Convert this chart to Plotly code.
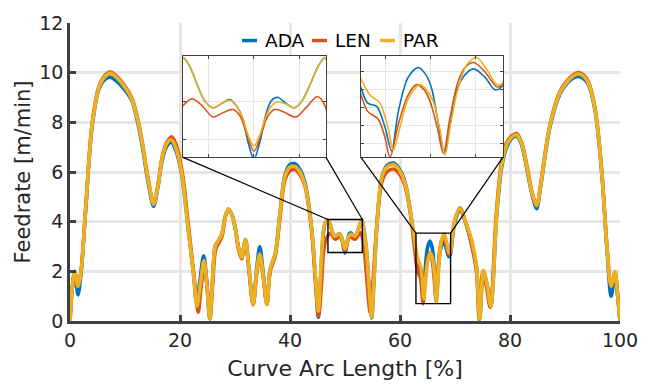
import plotly.graph_objects as go

# ---------------- data ----------------
ada_x = [0, 0.4, 0.85, 1.45, 2.0, 2.8, 4.0, 5.2, 6.2, 7.3, 8.5, 10.0, 11.3, 12.3, 13.1, 14.2, 15.2, 16.0, 16.7, 17.5,
         18.4, 19.2, 20.3, 21.5, 22.5, 23.0, 23.6, 24.3, 24.9, 25.4, 25.9, 26.4, 27.0, 27.6, 28.2, 28.8, 29.4, 30.0,
         30.6, 31.2, 31.9, 32.5, 33.3, 33.9, 34.5, 35.1, 35.8, 36.4, 37.3, 38.2, 39.1, 40.0, 40.9, 41.8, 42.7, 43.9,
         44.6, 45.15, 45.6, 46.1, 46.5, 46.9, 47.2, 47.5, 47.85, 48.21, 48.6, 48.94, 49.25, 49.5, 49.75, 50.0, 50.25,
         50.5, 50.75, 51.03, 51.4, 51.76, 52.1, 52.5, 52.85, 53.1, 53.4, 53.9, 54.4, 54.85, 55.3, 55.8, 56.7, 57.6,
         58.8, 59.8, 60.9, 62.1, 62.6, 62.9, 63.2, 63.6, 63.97, 64.26, 64.56, 65.0, 65.45, 65.8, 66.04, 66.35, 66.6,
         66.85, 67.08, 67.5, 67.9, 68.4, 68.86, 69.15, 69.5, 70.0, 70.9, 72.1, 73.0, 73.9, 74.5, 75.15, 75.8, 76.5,
         77.6, 78.5, 79.4, 80.3, 81.2, 82.1, 83.0, 84.0, 84.85, 85.5, 86.05, 87.3, 89.1, 90.3, 91.4, 92.4, 93.4, 94.2,
         95.45, 96.7, 97.6, 98.4, 99.1, 99.5, 100]
ada_y = [0, 1.3, 1.95, 1.06, 1.9, 4.3, 7.8, 9.3, 9.7, 9.82, 9.65, 9.3, 8.85, 8.0, 7.1, 5.6, 4.62, 5.4, 6.4, 7.0,
         7.2, 6.9, 5.9, 3.7, 1.8, 0.74, 1.6, 2.63, 1.5, 0.1, 1.6, 3.0, 3.25, 3.5, 4.2, 4.5, 4.3, 3.8,
         3.0, 2.56, 3.28, 2.2, 0.67, 2.0, 3.0, 2.0, 0.67, 2.1, 2.7, 4.4, 5.9, 6.3, 6.33, 6.1, 5.6, 3.8,
         1.8, 0.15, 1.9, 3.6, 4.0, 4.07, 3.95, 3.73, 3.5, 3.41, 3.47, 3.52, 3.43, 3.28, 2.95, 2.74, 2.95,
         3.3, 3.5, 3.55, 3.47, 3.41, 3.5, 3.75, 3.98, 4.07, 3.75, 2.85, 1.3, 0.12, 1.8, 3.87, 5.8, 6.25,
         6.36, 6.15, 5.6, 4.1, 3.2, 2.65, 2.22, 2.13, 1.54, 0.88, 1.99, 2.95, 3.22, 3.0, 2.63, 1.6, 0.83,
         1.6, 2.45, 3.0, 3.18, 2.95, 2.59, 2.68, 3.3, 4.0, 4.45, 3.85, 3.1, 2.2, 0.08, 2.0, 1.5, 0.6,
         4.3, 6.2, 7.0, 7.35, 7.45, 7.1, 6.2, 5.1, 4.52, 5.3, 6.15, 7.85, 9.15, 9.55, 9.78, 9.85, 9.75, 9.55,
         8.5, 5.9, 3.0, 1.0, 1.9, 1.2, 0]

len_x = [0, 0.4, 0.85, 1.45, 2.0, 2.8, 4.0, 5.2, 6.2, 7.3, 8.5, 10.0, 11.3, 12.3, 13.1, 14.2, 15.2, 16.0, 16.7, 17.5,
         18.5, 19.3, 20.4, 21.6, 22.6, 23.3, 23.8, 24.4, 24.95, 25.45, 25.95, 26.5, 27.1, 27.7, 28.2, 28.8, 29.4, 30.0,
         30.6, 31.2, 31.9, 32.5, 33.3, 33.9, 34.5, 35.1, 35.8, 36.4, 37.3, 38.2, 39.1, 40.0, 40.9, 41.8, 42.7, 43.9,
         44.6, 45.2, 45.7, 46.1, 46.5, 46.9, 47.28, 47.7, 48.21, 48.6, 49.08, 49.4, 49.7, 50.0, 50.3, 50.6, 50.9,
         51.35, 51.83, 52.3, 52.77, 53.1, 53.5, 54.0, 54.6, 55.1, 55.7, 56.7, 57.6, 58.8, 59.8, 60.9, 62.1, 62.6,
         62.9, 63.2, 63.67, 63.95, 64.19, 64.56, 65.0, 65.37, 65.7, 65.97, 66.3, 66.56, 66.85, 67.2, 67.5, 67.9,
         68.4, 68.93, 69.15, 69.5, 70.0, 70.9, 72.1, 73.0, 73.9, 74.4, 75.05, 75.7, 76.4, 77.5, 78.4, 79.3, 80.3,
         81.2, 82.1, 83.0, 84.0, 84.85, 85.5, 86.05, 87.3, 89.1, 90.3, 91.4, 92.4, 93.4, 94.2, 95.45, 96.7, 97.6,
         98.4, 99.1, 99.5, 100]
len_y = [0, 1.3, 2.0, 1.4, 2.0, 4.4, 7.9, 9.4, 9.85, 10.02, 9.85, 9.45, 8.95, 8.15, 7.25, 5.75, 4.72, 5.5, 6.55, 7.15,
         7.42, 7.1, 6.0, 3.7, 1.7, 0.35, 1.3, 2.25, 1.3, 0.08, 1.5, 2.9, 3.15, 3.45, 4.15, 4.5, 4.3, 3.8,
         2.95, 2.5, 3.2, 2.1, 0.65, 1.8, 2.65, 1.8, 0.67, 2.0, 2.6, 4.2, 5.7, 6.05, 6.1, 5.9, 5.45, 3.7,
         1.7, 0.2, 1.4, 2.8, 3.25, 3.44, 3.53, 3.45, 3.29, 3.34, 3.39, 3.3, 3.05, 2.84, 3.05, 3.3, 3.39,
         3.35, 3.29, 3.42, 3.56, 3.44, 2.9, 1.6, 0.3, 1.6, 3.6, 5.6, 6.0, 6.12, 5.95, 5.45, 4.0, 3.0,
         2.45, 1.99, 1.77, 1.3, 0.7, 1.63, 2.45, 2.74, 2.6, 2.27, 1.5, 0.81, 1.8, 2.8, 3.2, 3.36,
         3.1, 2.68, 2.72, 3.4, 4.1, 4.55, 3.85, 3.1, 2.0, 0.05, 2.0, 1.4, 0.55, 4.3, 6.3, 7.15, 7.45,
         7.55, 7.2, 6.35, 5.2, 4.65, 5.4, 6.25, 7.95, 9.25, 9.65, 9.9, 10.0, 9.9, 9.65, 8.6, 6.0, 3.1,
         1.4, 1.97, 1.2, 0]

par_x = [0, 0.4, 0.85, 1.45, 2.0, 2.8, 4.0, 5.2, 6.2, 7.3, 8.5, 10.0, 11.3, 12.3, 13.1, 14.2, 15.2, 16.0, 16.7, 17.5,
         18.4, 19.2, 20.3, 21.5, 22.5, 23.1, 23.7, 24.35, 24.9, 25.45, 25.9, 26.4, 27.0, 27.6, 28.2, 28.8, 29.4, 30.0,
         30.6, 31.2, 31.9, 32.5, 33.3, 33.9, 34.5, 35.1, 35.8, 36.4, 37.3, 38.2, 39.1, 40.0, 40.9, 41.8, 42.7, 43.9,
         44.6, 45.15, 45.6, 46.1, 46.5, 46.9, 47.2, 47.5, 47.85, 48.21, 48.6, 48.94, 49.25, 49.5, 49.75, 50.0, 50.25,
         50.5, 50.75, 51.03, 51.4, 51.76, 52.1, 52.5, 52.85, 53.1, 53.4, 53.9, 54.4, 54.85, 55.3, 55.8, 56.7, 57.6,
         58.8, 59.8, 60.9, 62.1, 62.6, 62.9, 63.3, 63.74, 64.1, 64.34, 64.63, 65.0, 65.52, 65.8, 66.11, 66.4, 66.63,
         66.9, 67.2, 67.6, 68.04, 68.5, 68.93, 69.15, 69.5, 70.0, 70.9, 72.1, 73.0, 73.9, 74.5, 75.15, 75.8, 76.5,
         77.6, 78.5, 79.4, 80.3, 81.2, 82.1, 83.0, 84.0, 84.85, 85.5, 86.05, 87.3, 89.1, 90.3, 91.4, 92.4, 93.4, 94.2,
         95.45, 96.7, 97.6, 98.4, 99.1, 99.5, 100]
par_y = [0, 1.3, 2.0, 1.4, 2.0, 4.35, 7.85, 9.35, 9.8, 9.97, 9.8, 9.4, 8.9, 8.1, 7.2, 5.7, 4.7, 5.45, 6.5, 7.1,
         7.3, 7.0, 5.95, 3.7, 1.8, 0.6, 1.5, 2.43, 1.4, 0.08, 1.6, 3.0, 3.25, 3.5, 4.2, 4.52, 4.3, 3.8,
         3.0, 2.56, 3.28, 2.2, 0.67, 1.9, 2.7, 1.9, 0.67, 2.1, 2.7, 4.35, 5.85, 6.2, 6.22, 6.0, 5.5, 3.8,
         1.9, 0.4, 2.0, 3.7, 4.0, 4.07, 3.95, 3.73, 3.5, 3.41, 3.47, 3.51, 3.43, 3.28, 3.05, 2.91, 3.05,
         3.28, 3.43, 3.49, 3.46, 3.41, 3.5, 3.75, 3.98, 4.07, 3.75, 2.85, 1.3, 0.15, 1.8, 3.87, 5.8, 6.2,
         6.3, 6.1, 5.55, 4.1, 3.4, 2.9, 2.45, 2.22, 1.54, 0.9, 1.54, 2.35, 2.74, 2.6, 2.27, 1.5, 0.76,
         1.7, 2.6, 3.3, 3.5, 3.15, 2.74, 2.76, 3.4, 4.1, 4.52, 3.87, 3.3, 2.2, 0.08, 2.04, 1.5, 0.6,
         4.4, 6.3, 7.1, 7.4, 7.5, 7.15, 6.3, 5.15, 4.65, 5.35, 6.2, 7.9, 9.2, 9.6, 9.85, 9.95, 9.85, 9.6,
         8.55, 5.95, 3.05, 1.4, 1.97, 1.2, 0]

series_names = ["ADA", "LEN", "PAR"]
series_colors = ["#0072BD", "#D95319", "#EDB120"]
x_ticks = [0, 20, 40, 60, 80, 100]
y_ticks = [0, 2, 4, 6, 8, 10, 12]

# zoom windows (data ranges of the insets)
zoom1_x = [46.9, 53.15]
zoom1_y = [2.76, 4.09]
zoom2_x = [62.9, 69.2]
zoom2_y = [0.7, 3.54]

# ---------------- figure ----------------
FONT = "DejaVu Sans"
TXT = "#262626"
AX = "#404040"
GRID = "#e6e6e6"
W, H = 650, 390
ML, MR, MT, MB = 70, 30, 16, 68
PW, PH = W - ML - MR, H - MT - MB

def px_to_paper(px, py):
    return (px - ML) / PW, (H - MB - py) / PH

xs = [ada_x, len_x, par_x]
ys = [ada_y, len_y, par_y]

fig = go.Figure()
for name, col, x, y in zip(series_names, series_colors, xs, ys):
    fig.add_trace(go.Scatter(x=x, y=y, name=name, mode="lines", showlegend=False,
                             line=dict(color=col, width=3.6, shape="spline", smoothing=0.9),
                             xaxis="x", yaxis="y"))
for xa, ya in [("x2", "y2"), ("x3", "y3")]:
    for name, col, x, y in zip(series_names, series_colors, xs, ys):
        fig.add_trace(go.Scatter(x=x, y=y, name=name, mode="lines", showlegend=False,
                                 line=dict(color=col, width=1.6, shape="spline", smoothing=0.9),
                                 xaxis=xa, yaxis=ya))

# inset domains (paper fractions of the main plot area)
in1_dx = [0.2055, 0.4655]
in2_dx = [0.529, 0.787]
in_dy = [0.549, 0.889]

inset_axis = dict(showticklabels=False, ticks="inside", ticklen=3, tickwidth=1, tickcolor=AX,
                  showline=True, linecolor=AX, linewidth=1.3, mirror="ticks",
                  showgrid=True, gridcolor=GRID, gridwidth=1, zeroline=False)

fig.update_layout(
    width=W, height=H,
    margin=dict(l=ML, r=MR, t=MT, b=MB),
    paper_bgcolor="white", plot_bgcolor="white",
    font=dict(family=FONT, color=TXT, size=19),
    showlegend=False,
    xaxis=dict(domain=[0, 1], range=[0, 100], tickvals=x_ticks, ticks="inside", ticklen=6, tickwidth=2.5,
               tickcolor=AX, showline=True, linecolor=AX, linewidth=2.5, showgrid=True, gridcolor=GRID,
               gridwidth=3, zeroline=False, tickfont=dict(size=19, color=TXT),
               title=dict(text="Curve Arc Length [%]", font=dict(size=22, color=TXT), standoff=12)),
    yaxis=dict(domain=[0, 1], range=[0, 12], tickvals=y_ticks, ticks="inside", ticklen=6, tickwidth=2.5,
               tickcolor=AX, showline=True, linecolor=AX, linewidth=2.5, showgrid=True, gridcolor=GRID,
               gridwidth=3, zeroline=False, tickfont=dict(size=19, color=TXT),
               title=dict(text="Feedrate [m/min]", font=dict(size=21, color=TXT), standoff=3)),
    xaxis2=dict(domain=in1_dx, range=zoom1_x, tickvals=[48, 50, 52], anchor="y2", **inset_axis),
    yaxis2=dict(domain=in_dy, range=zoom1_y, tickvals=[3.0, 3.5], anchor="x2", **inset_axis),
    xaxis3=dict(domain=in2_dx, range=zoom2_x, tickvals=[64, 66, 68], anchor="y3", **inset_axis),
    yaxis3=dict(domain=in_dy, range=zoom2_y, tickvals=[1.1, 1.6, 2.1, 2.6, 3.1], anchor="x3", **inset_axis),
)

# zoom rectangles on the main plot
for zx, zy in [(zoom1_x, zoom1_y), (zoom2_x, zoom2_y)]:
    fig.add_shape(type="rect", xref="x", yref="y", x0=zx[0], x1=zx[1], y0=zy[0], y1=zy[1],
                  line=dict(color="black", width=1.4), layer="above")

# connector lines from inset bottom corners to rectangle top corners (paper coords)
for dx, zx, zy in [(in1_dx, zoom1_x, zoom1_y), (in2_dx, zoom2_x, zoom2_y)]:
    for i in (0, 1):
        fig.add_shape(type="line", xref="paper", yref="paper", x0=dx[i], y0=in_dy[0],
                      x1=zx[i] / 100.0, y1=zy[1] / 12.0,
                      line=dict(color="black", width=1.2), layer="above")

# legend (compact, MATLAB-style): short dash + label
legend_dash_px = [(242, 257), (312, 327), (380, 395)]
legend_text_px = [263, 333, 401]
legend_y_px = 34
for name, col, (a, b), tx in zip(series_names, series_colors, legend_dash_px, legend_text_px):
    x0, yy = px_to_paper(a, legend_y_px)
    x1, _ = px_to_paper(b, legend_y_px)
    fig.add_shape(type="line", xref="paper", yref="paper", x0=x0, x1=x1, y0=yy, y1=yy,
                  line=dict(color=col, width=3.5), layer="above")
    xt, _ = px_to_paper(tx, legend_y_px)
    fig.add_annotation(xref="paper", yref="paper", x=xt, y=yy, text=name, showarrow=False,
                       xanchor="left", yanchor="middle", font=dict(family=FONT, size=18.5, color="black"))

fig.write_html("out.html")
